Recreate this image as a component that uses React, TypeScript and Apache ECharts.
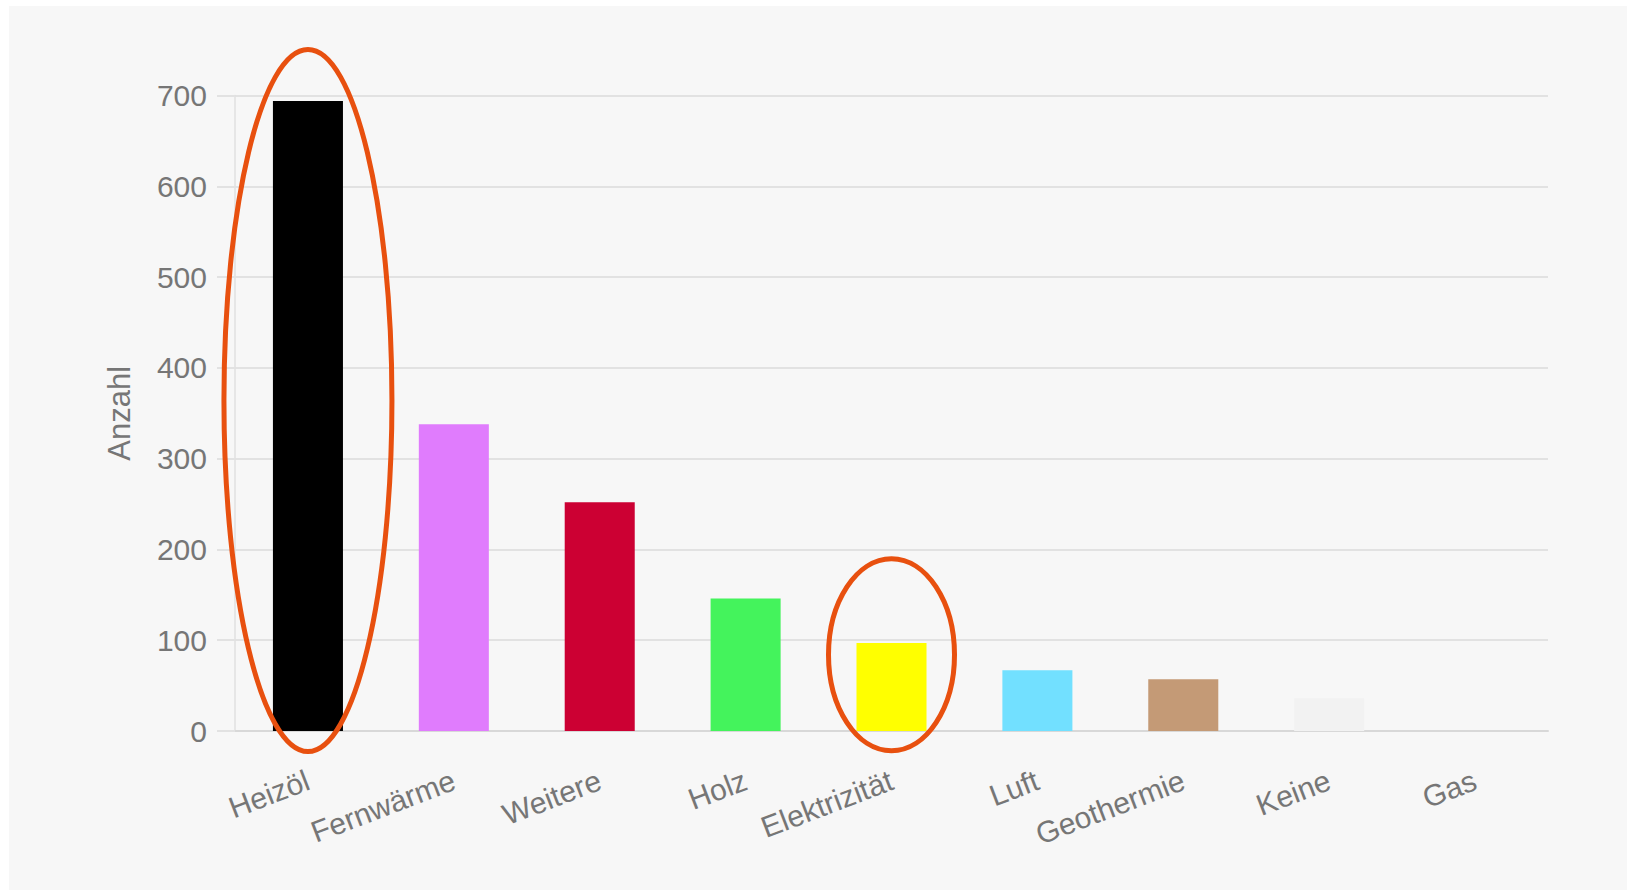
import React, { useEffect, useRef } from "react";
import * as echarts from "echarts";

const categories = ["Heizöl", "Fernwärme", "Weitere", "Holz", "Elektrizität", "Luft", "Geothermie", "Keine", "Gas"];
const values = [694, 338, 252, 146, 97, 67, 57, 36, 0];
const barColors = ["#000000", "#e07cfd", "#cc0033", "#44f35c", "#ffff00", "#72e0ff", "#c49a76", "#f2f2f2", "#d0d0d0"];
const yMax = 700;
const yInterval = 100;
const yAxisName = "Anzahl";

// hand-drawn highlight annotations
const annotCategories = ["Heizöl", "Elektrizität"];
const annotCenterValues = [364, 84];
const annotRadiusX = [84, 63];
const annotRadiusY = [351, 96];

const textColor = "#767676";
const fontFamily = "'Liberation Sans', Arial, Helvetica, sans-serif";

export default function App() {
  const ref = useRef<HTMLDivElement>(null);

  useEffect(() => {
    if (!ref.current) return;
    const chart = echarts.init(ref.current, null, { renderer: "svg" });
    chart.setOption({
      animation: false,
      backgroundColor: "transparent",
      textStyle: { fontFamily },
      grid: { left: 235, right: 79, top: 95.5, bottom: 159, containLabel: false },
      xAxis: {
        type: "category",
        data: categories,
        axisLine: { show: true, lineStyle: { color: "#d8d8d8", width: 2 } },
        axisTick: { show: false },
        axisLabel: {
          rotate: 21,
          margin: 48,
          color: textColor,
          fontSize: 30,
          fontFamily,
          interval: 0,
        },
      },
      yAxis: {
        type: "value",
        min: 0,
        max: yMax,
        interval: yInterval,
        name: yAxisName,
        nameLocation: "middle",
        nameGap: 100,
        nameTextStyle: { color: textColor, fontSize: 31, fontFamily },
        axisLine: { show: true, lineStyle: { color: "#e0e0e0", width: 1.5 } },
        axisTick: { show: true, length: 18, lineStyle: { color: "#e2e2e2", width: 2 } },
        axisLabel: { color: textColor, fontSize: 30, fontFamily, margin: 28 },
        splitLine: { show: true, lineStyle: { color: "#e2e2e2", width: 2 } },
      },
      series: [
        {
          type: "bar",
          barWidth: "48%",
          data: values.map((v, i) => ({ value: v, itemStyle: { color: barColors[i] } })),
        },
      ],
    });

    const graphics = annotCategories.map((cat, i) => {
      const [cx, cy] = chart.convertToPixel({ gridIndex: 0 }, [cat, annotCenterValues[i]]) as number[];
      return {
        type: "ellipse",
        z: 100,
        shape: { cx, cy, rx: annotRadiusX[i], ry: annotRadiusY[i] },
        style: { fill: "none", stroke: "#e8500f", lineWidth: 5 },
      };
    });
    chart.setOption({ graphic: graphics });

    return () => chart.dispose();
  }, []);

  return (
    <div style={{ position: "fixed", left: 0, top: 0, width: 1627, height: 890, background: "#ffffff" }}>
      <div style={{ position: "absolute", left: 9, top: 6, right: 0, bottom: 0, background: "#f7f7f7" }} />
      <div ref={ref} style={{ position: "absolute", left: 0, top: 0, width: 1627, height: 890 }} />
    </div>
  );
}
